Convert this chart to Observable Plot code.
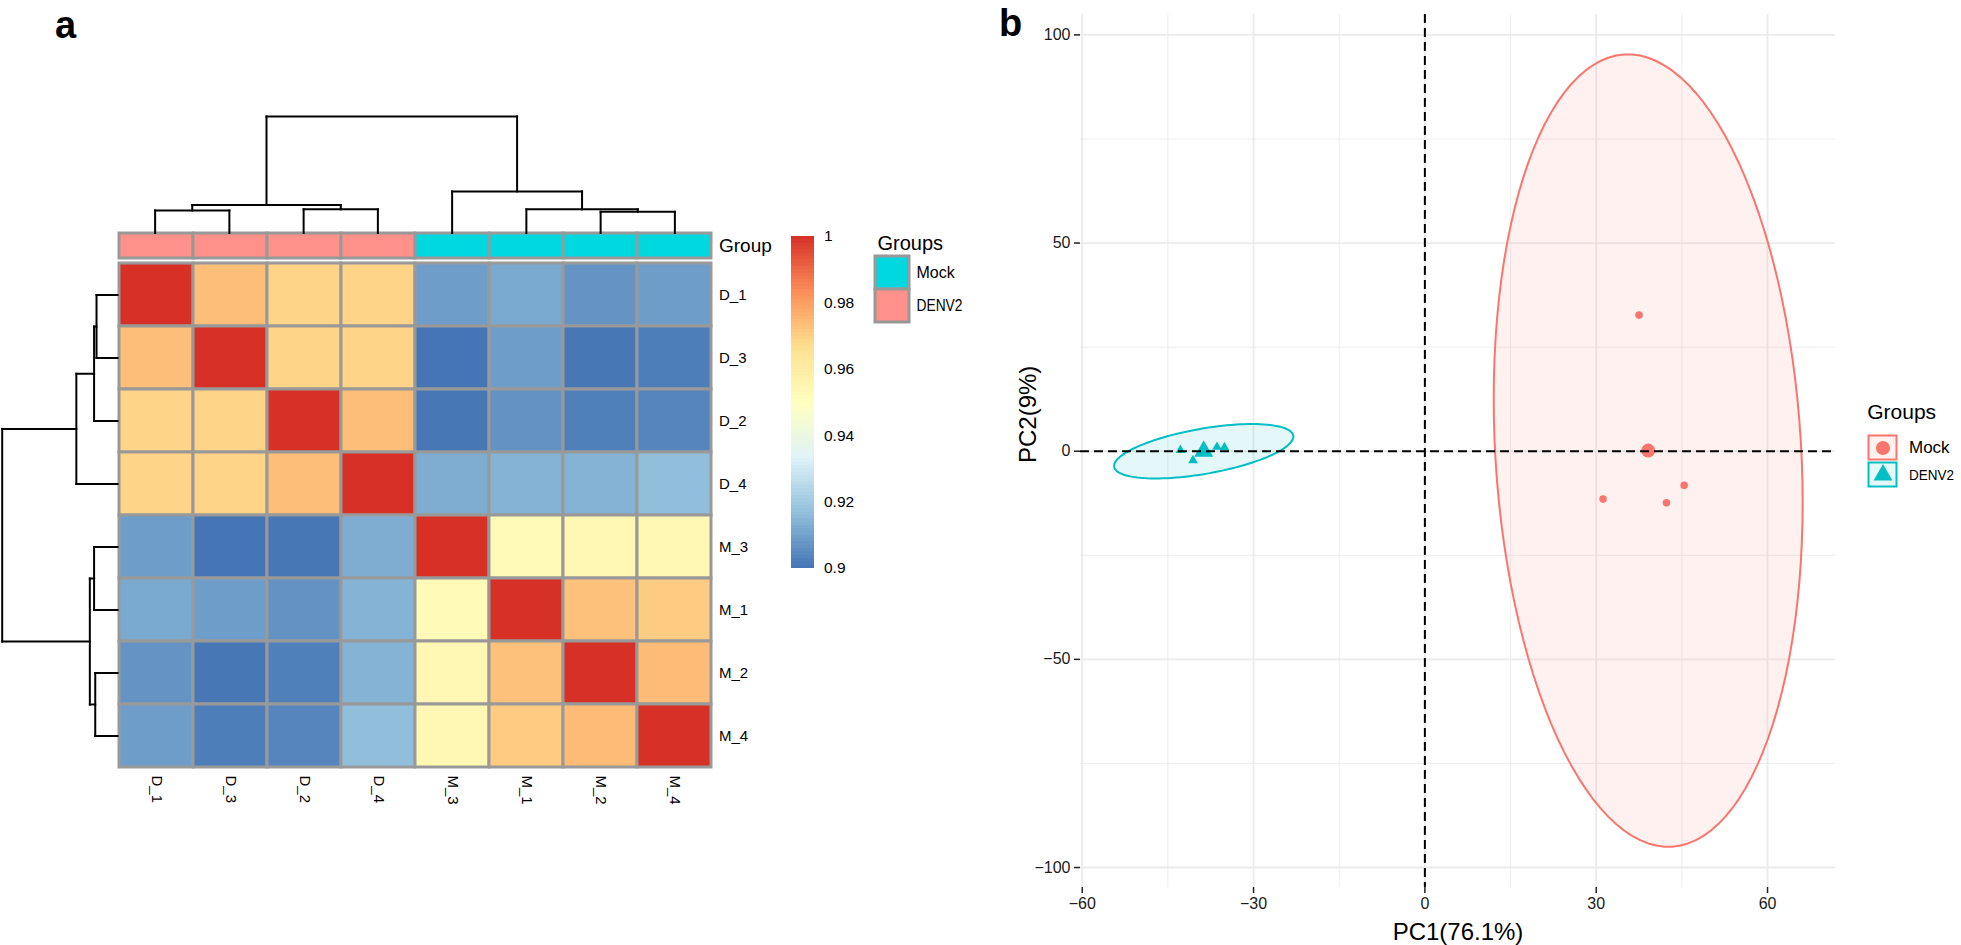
<!DOCTYPE html>
<html>
<head>
<meta charset="utf-8">
<script src="https://cdn.jsdelivr.net/npm/d3@7"></script>
<script src="https://cdn.jsdelivr.net/npm/@observablehq/plot@0.6"></script>
<style>
  html, body { margin:0; padding:0; background:#ffffff; }
  #root { position:relative; width:1961px; height:945px; overflow:hidden; background:#fff; font-family:"Liberation Sans", Arial, Helvetica, sans-serif; }
  .tag { position:absolute; font-weight:bold; font-size:38px; line-height:38px; color:#000; font-family:"Liberation Sans", Arial, sans-serif; }
</style>
</head>
<body>
<div id="root">
  <div class="tag" style="left:55px; top:6px;">a</div>
  <div class="tag" style="left:999px; top:4px;">b</div>
</div>
<script>
// ---------------- DATA ----------------
// Panel a: sample order after clustering
const samples = ["D_1", "D_3", "D_2", "D_4", "M_3", "M_1", "M_2", "M_4"];
const sampleGroup = ["DENV2", "DENV2", "DENV2", "DENV2", "Mock", "Mock", "Mock", "Mock"];
// correlation rows (columns in the same order as samples)
const corrD_1 = [1.0000, 0.9735, 0.9690, 0.9690, 0.9090, 0.9117, 0.9070, 0.9090];
const corrD_3 = [0.9735, 1.0000, 0.9690, 0.9690, 0.9000, 0.9090, 0.9005, 0.9020];
const corrD_2 = [0.9690, 0.9690, 1.0000, 0.9735, 0.9005, 0.9066, 0.9025, 0.9037];
const corrD_4 = [0.9690, 0.9690, 0.9735, 1.0000, 0.9127, 0.9140, 0.9140, 0.9167];
const corrM_3 = [0.9090, 0.9000, 0.9005, 0.9127, 1.0000, 0.9527, 0.9543, 0.9540];
const corrM_1 = [0.9117, 0.9090, 0.9066, 0.9140, 0.9527, 1.0000, 0.9729, 0.9709];
const corrM_2 = [0.9070, 0.9005, 0.9025, 0.9140, 0.9543, 0.9729, 1.0000, 0.9741];
const corrM_4 = [0.9090, 0.9020, 0.9037, 0.9167, 0.9540, 0.9709, 0.9741, 1.0000];
// hierarchical clustering merges (hclust style: negative = leaf index in samples, positive = earlier merge)
const mergeLeft   = [-1, -3, 1, -7, -6, -5, 3];
const mergeRight  = [-2, -4, 2, -8,  4,  5, 6];
const mergeHeight = [0.193, 0.203, 0.240, 0.182, 0.203, 0.357, 1.000];
// colour scale
const corrColors = ["#4575B4", "#91BFDB", "#E0F3F8", "#FFFFBF", "#FEE090", "#FC8D59", "#D73027"];
const corrTicks = [0.9, 0.92, 0.94, 0.96, 0.98, 1];
const annoGroups = ["Mock", "DENV2"];
const annoColors = ["#00D8E0", "#FF918A"];

// Panel b: PCA scores
const pcaGroups = ["Mock", "DENV2"];
const pcaColors = ["#F8766D", "#00BFC4"];
const pcaSymbols = ["circle", "triangle"];
const mockPC1 = [37.5, 31.2, 42.3, 45.4];
const mockPC2 = [32.7, -11.5, -12.4, -8.2];
const denvPC1 = [-42.8, -40.6, -36.4, -35.1];
const denvPC2 = [0.25, -2.2, 1.0, 0.9];
const pc1Major = [-60, -30, 0, 30, 60];
const pc1Minor = [-45, -15, 15, 45];
const pc2Major = [-100, -50, 0, 50, 100];
const pc2Minor = [-75, -25, 25, 75];

// ---------------- HELPERS ----------------
const root = document.getElementById("root");
const FONT = '"Liberation Sans", Arial, Helvetica, sans-serif';
function place(el, left, top) {
  el.style.position = "absolute";
  el.style.left = left + "px";
  el.style.top = top + "px";
  el.style.maxWidth = "none";
  root.appendChild(el);
  return el;
}
function squeeze(svg, label, len) {
  svg.querySelectorAll("text").forEach(t => {
    if (t.textContent === label) {
      t.setAttribute("textLength", len);
      t.setAttribute("lengthAdjust", "spacingAndGlyphs");
    }
  });
}
const baseStyle = {background: "transparent", overflow: "visible", fontFamily: FONT, color: "#000"};

// ---------------- PANEL A ----------------
const corrRows = [corrD_1, corrD_3, corrD_2, corrD_4, corrM_3, corrM_1, corrM_2, corrM_4];
const cells = samples.flatMap((r, i) => samples.map((c, j) => ({row: r, col: c, value: corrRows[i][j]})));
const interp = d3.piecewise(d3.interpolateRgb, corrColors);
const colorScale = {type: "linear", domain: [0.9, 1], interpolate: interp, clamp: true};

// dendrogram segments
function dendroSegments() {
  const pos = [], hgt = [], segs = [];
  const nodePos = k => k < 0 ? (-k - 1) : pos[k - 1];
  const nodeH = k => k < 0 ? 0 : hgt[k - 1];
  for (let s = 0; s < mergeHeight.length; s++) {
    const a = mergeLeft[s], b = mergeRight[s], h = mergeHeight[s];
    const pa = nodePos(a), pb = nodePos(b);
    segs.push({p1: pa, h1: nodeH(a), p2: pa, h2: h});
    segs.push({p1: pa, h1: h, p2: pb, h2: h});
    segs.push({p1: pb, h1: nodeH(b), p2: pb, h2: h});
    pos.push((pa + pb) / 2); hgt.push(h);
  }
  return segs;
}
const segs = dendroSegments();

const HM_L = 117.5, HM_R = 711.5, HM_T = 263, HM_B = 767;
const W_A = 960, H_A = 945;

// heatmap
place(Plot.plot({
  width: W_A, height: H_A,
  marginLeft: HM_L, marginRight: W_A - HM_R, marginTop: HM_T, marginBottom: H_A - HM_B,
  x: {type: "band", domain: samples, padding: 0, axis: null},
  y: {type: "band", domain: samples, padding: 0, axis: null},
  color: colorScale,
  style: baseStyle,
  marks: [
    Plot.cell(cells, {x: "col", y: "row", fill: "value", stroke: "#999999", strokeWidth: 3, inset: 0}),
    Plot.axisY({anchor: "right", tickSize: 0, tickPadding: 7, fontSize: 15, label: null}),
    Plot.axisX({anchor: "bottom", tickSize: 0, tickPadding: 8, tickRotate: 90, fontSize: 15, label: null})
  ]
}), 0, 0);

// group annotation bar
const annoCells = samples.map((s, i) => ({col: s, row: "Group", group: sampleGroup[i]}));
place(Plot.plot({
  width: W_A, height: 270,
  marginLeft: HM_L, marginRight: W_A - HM_R, marginTop: 233.3, marginBottom: 270 - 258.3,
  x: {type: "band", domain: samples, padding: 0, axis: null},
  y: {type: "band", domain: ["Group"], padding: 0, axis: null},
  color: {type: "ordinal", domain: annoGroups, range: annoColors},
  style: baseStyle,
  marks: [
    Plot.cell(annoCells, {x: "col", y: "row", fill: "group", stroke: "#999999", strokeWidth: 3, inset: 0}),
    Plot.axisY({anchor: "right", tickSize: 0, tickPadding: 7, fontSize: 19, label: null})
  ]
}), 0, 0);

// top dendrogram
place(Plot.plot({
  width: W_A, height: 240,
  marginLeft: HM_L, marginRight: W_A - HM_R, marginTop: 116, marginBottom: 240 - 232.5,
  x: {type: "linear", domain: [-0.5, samples.length - 0.5], axis: null},
  y: {type: "linear", domain: [0, 1], axis: null},
  style: baseStyle,
  marks: [
    Plot.link(segs, {x1: "p1", y1: "h1", x2: "p2", y2: "h2", stroke: "#000", strokeWidth: 2, strokeLinecap: "square"})
  ]
}), 0, 0);

// left dendrogram
place(Plot.plot({
  width: 130, height: H_A,
  marginLeft: 1.7, marginRight: 130 - (HM_L - 0.5), marginTop: HM_T, marginBottom: H_A - HM_B,
  x: {type: "linear", domain: [1, 0], axis: null},
  y: {type: "linear", domain: [-0.5, samples.length - 0.5], axis: null},
  style: baseStyle,
  marks: [
    Plot.link(segs, {y1: "p1", x1: "h1", y2: "p2", x2: "h2", stroke: "#000", strokeWidth: 2, strokeLinecap: "square"})
  ]
}), 0, 0);

// colour bar
const barSteps = d3.range(0, 100).map(i => 0.9 + i * 0.001);
place(Plot.plot({
  width: 100, height: 600,
  marginLeft: 11, marginRight: 100 - 33.5, marginTop: 236, marginBottom: 600 - 568,
  x: {type: "linear", domain: [0, 1], axis: null},
  y: {type: "linear", domain: [0.9, 1], axis: null},
  color: colorScale,
  style: baseStyle,
  marks: [
    Plot.rect(barSteps, {x1: 0, x2: 1, y1: d => d, y2: d => d + 0.0011, fill: d => d + 0.0005, shapeRendering: "crispEdges"}),
    Plot.axisY({anchor: "right", ticks: corrTicks, tickSize: 0, tickPadding: 10, fontSize: 15.5, label: null,
      tickFormat: d => String(+d.toFixed(2))})
  ]
}), 780, 0);

// group legend (heatmap)
const legA = place(Plot.plot({
  width: 110, height: 110,
  marginLeft: 15, marginRight: 110 - 49, marginTop: 31, marginBottom: 110 - 97,
  x: {type: "band", domain: ["key"], padding: 0, axis: null},
  y: {type: "band", domain: annoGroups, padding: 0, axis: null},
  color: {type: "ordinal", domain: annoGroups, range: annoColors},
  style: baseStyle,
  marks: [
    Plot.cell(annoGroups, {x: () => "key", y: d => d, fill: d => d, stroke: "#999999", strokeWidth: 3, inset: 0}),
    Plot.text(annoGroups, {x: () => "key", y: d => d, text: d => d, dx: 24, textAnchor: "start", fontSize: 16}),
    Plot.text(["Groups"], {frameAnchor: "top-left", dx: 2, dy: -13, textAnchor: "start", lineAnchor: "middle", fontSize: 20})
  ]
}), 860, 225);
squeeze(legA, "DENV2", 46);

// ---------------- PANEL B ----------------
const mockPts = mockPC1.map((x, i) => ({pc1: x, pc2: mockPC2[i], group: "Mock"}));
const denvPts = denvPC1.map((x, i) => ({pc1: x, pc2: denvPC2[i], group: "DENV2"}));
// 95% normal-theory ellipse from sample covariance (like ggplot2 stat_ellipse type = "norm")
const QF_95_2_3 = 9.552094; // qf(0.95, 2, n - 1) for n = 4
function ellipse(pts) {
  const n = pts.length;
  const mx = d3.mean(pts, d => d.pc1), my = d3.mean(pts, d => d.pc2);
  const sxx = d3.sum(pts, d => (d.pc1 - mx) ** 2) / (n - 1);
  const syy = d3.sum(pts, d => (d.pc2 - my) ** 2) / (n - 1);
  const sxy = d3.sum(pts, d => (d.pc1 - mx) * (d.pc2 - my)) / (n - 1);
  const a = Math.sqrt(sxx), b = sxy / a, c = Math.sqrt(syy - b * b);
  const rad = Math.sqrt(2 * QF_95_2_3);
  const out = [];
  for (let k = 0; k < 120; k++) {
    const t = 2 * Math.PI * k / 120, u = Math.cos(t), v = Math.sin(t);
    out.push({pc1: mx + rad * (u * a), pc2: my + rad * (u * b + v * c)});
  }
  return out;
}
const mockEll = ellipse(mockPts), denvEll = ellipse(denvPts);
const centroids = [
  {pc1: d3.mean(mockPts, d => d.pc1), pc2: d3.mean(mockPts, d => d.pc2), group: "Mock"},
  {pc1: d3.mean(denvPts, d => d.pc1), pc2: d3.mean(denvPts, d => d.pc2), group: "DENV2"}
];

const P_L = 1080, P_R = 1835, P_T = 14, P_B = 887, P_OFF = 990;
const W_B = 1961 - P_OFF, H_B = 945;
const gridCol = "#EBEBEB";
place(Plot.plot({
  width: W_B, height: H_B,
  marginLeft: P_L - P_OFF, marginRight: 1961 - P_R, marginTop: P_T, marginBottom: H_B - P_B,
  x: {type: "linear", domain: [-60.3, 71.9], axis: null},
  y: {type: "linear", domain: [-104.8, 104.9], axis: null},
  color: {type: "ordinal", domain: pcaGroups, range: pcaColors},
  symbol: {domain: pcaGroups, range: pcaSymbols},
  style: baseStyle,
  marks: [
    Plot.gridX(pc1Minor, {stroke: gridCol, strokeOpacity: 1, strokeWidth: 0.9}),
    Plot.gridY(pc2Minor, {stroke: gridCol, strokeOpacity: 1, strokeWidth: 0.9}),
    Plot.gridX(pc1Major, {stroke: gridCol, strokeOpacity: 1, strokeWidth: 1.8}),
    Plot.gridY(pc2Major, {stroke: gridCol, strokeOpacity: 1, strokeWidth: 1.8}),
    Plot.line(mockEll, {x: "pc1", y: "pc2", curve: "linear-closed", fill: pcaColors[0], fillOpacity: 0.1, stroke: pcaColors[0], strokeWidth: 2}),
    Plot.line(denvEll, {x: "pc1", y: "pc2", curve: "linear-closed", fill: pcaColors[1], fillOpacity: 0.1, stroke: pcaColors[1], strokeWidth: 2}),
    Plot.dot(mockPts, {x: "pc1", y: "pc2", fill: "group", symbol: "group", r: 3.8}),
    Plot.dot(denvPts, {x: "pc1", y: "pc2", fill: "group", symbol: "group", r: 3.6}),
    Plot.dot(centroids, {x: "pc1", y: "pc2", fill: "group", symbol: "group", r: 7}),
    Plot.ruleX([0], {stroke: "#000", strokeWidth: 2, strokeDasharray: "9,5"}),
    Plot.ruleY([0], {stroke: "#000", strokeWidth: 2, strokeDasharray: "9,5"}),
    Plot.axisX({ticks: pc1Major, tickSize: 6, tickPadding: 4, fontSize: 16, label: null, stroke: "#222", strokeWidth: 1.5, color: "#1a1a1a"}),
    Plot.axisY({ticks: pc2Major, tickSize: 6, tickPadding: 4, fontSize: 16, label: null, stroke: "#222", strokeWidth: 1.5, color: "#1a1a1a"}),
    Plot.text(["PC1(76.1%)"], {frameAnchor: "bottom", dy: 45, fontSize: 24, lineAnchor: "middle"}),
    Plot.text(["PC2(9%)"], {frameAnchor: "left", dx: -52, dy: 12, rotate: -90, fontSize: 24, lineAnchor: "middle"})
  ]
}), P_OFF, 0);

// PCA legend
const legB = place(Plot.plot({
  width: 104, height: 120,
  marginLeft: 12.7, marginRight: 104 - 44.3, marginTop: 43.3, marginBottom: 120 - 98,
  x: {type: "band", domain: ["key"], padding: 0, axis: null},
  y: {type: "band", domain: pcaGroups, padding: 0, axis: null},
  color: {type: "ordinal", domain: pcaGroups, range: pcaColors},
  symbol: {domain: pcaGroups, range: pcaSymbols},
  style: baseStyle,
  marks: [
    Plot.cell(pcaGroups, {x: () => "key", y: d => d, fill: d => d, fillOpacity: 0.1, stroke: d => d, strokeWidth: 2, inset: 1.5}),
    Plot.dot(pcaGroups, {x: () => "key", y: d => d, fill: d => d, symbol: d => d, r: 7}),
    Plot.text(pcaGroups, {x: () => "key", y: d => d, text: d => d, dx: 26, textAnchor: "start",
      fontSize: d => d === "DENV2" ? 15 : 17}),
    Plot.text(["Groups"], {frameAnchor: "top-left", dx: 0, dy: -21.6, textAnchor: "start", lineAnchor: "middle", fontSize: 21})
  ]
}), 1854, 390);
squeeze(legB, "DENV2", 45);
</script>
</body>
</html>
